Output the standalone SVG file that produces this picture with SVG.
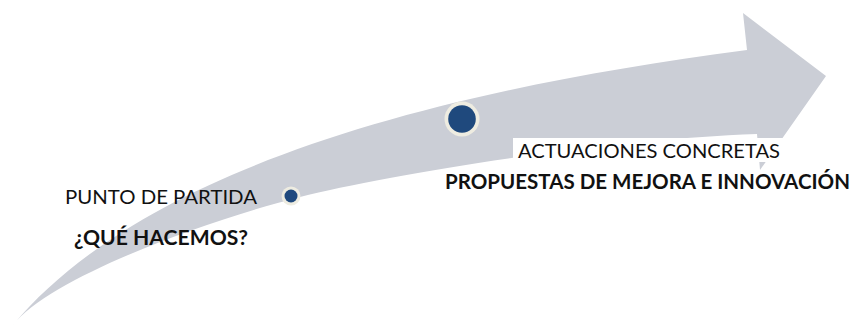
<svg xmlns="http://www.w3.org/2000/svg" width="855" height="327" viewBox="0 0 855 327">
<style>
.lbl{font-family:Lato,"Open Sans","Liberation Sans",sans-serif;font-size:20px;fill:#111;}
.b{font-weight:bold;}
.ring{fill:#EEECE1;}
.dot{fill:#1F497D;}
</style>
<rect width="855" height="327" fill="#fff"/>
<g id="arrow">
<path d="M13,325 C133,181 397,95.5 747,50 L743,13 L826,76 L760,170 L757,134 C607,139 390,174 300,197 C200,222.6 50,278 13,325 Z" fill="#CBCED6"/>
</g>
<g id="start">
<circle class="ring" cx="291" cy="196" r="9.5"/>
<circle class="dot" cx="291" cy="196" r="6.5"/>
<text class="lbl" x="65" y="204" textLength="192" lengthAdjust="spacingAndGlyphs">PUNTO DE PARTIDA</text>
<text class="lbl b" x="74" y="245" textLength="174" lengthAdjust="spacingAndGlyphs">¿QUÉ HACEMOS?</text>
</g>
<g id="actions">
<circle class="ring" cx="462" cy="119" r="17.5"/>
<circle class="dot" cx="462" cy="119" r="13.8"/>
<rect x="513" y="138" width="272" height="24" fill="#fff"/>
<text class="lbl" x="518" y="158" textLength="262" lengthAdjust="spacingAndGlyphs">ACTUACIONES CONCRETAS</text>
<text class="lbl b" x="445" y="189" textLength="405" lengthAdjust="spacingAndGlyphs">PROPUESTAS DE MEJORA E INNOVACIÓN</text>
</g>
<g id="connectors"/>
</svg>
